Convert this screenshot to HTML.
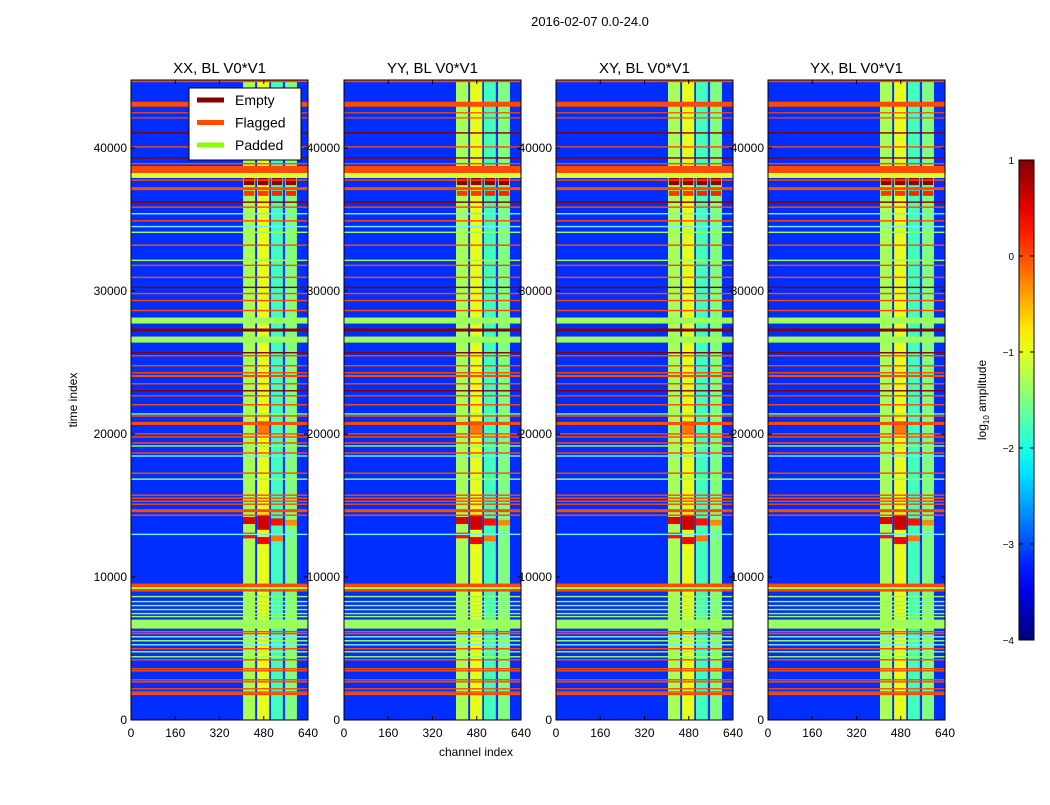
<!DOCTYPE html>
<html><head><meta charset="utf-8"><style>
body{margin:0;background:#fff;font-family:"Liberation Sans",sans-serif}
svg text{font-family:"Liberation Sans",sans-serif}
</style></head><body>
<svg id="fig" width="1050" height="800" xmlns="http://www.w3.org/2000/svg">
<rect width="1050" height="800" fill="#fff"/>
<text x="590" y="26" font-size="13" text-anchor="middle">2016-02-07 0.0-24.0</text>
</svg>
<script>
// ---- data ----
const panelTitles = ["XX, BL V0*V1","YY, BL V0*V1","XY, BL V0*V1","YX, BL V0*V1"];
const xTicks = [0,160,320,480,640];
const yTicks = [0,10000,20000,30000,40000];
const cbTicks = [1,0,-1,-2,-3,-4];
const baseValue = -3.15;
// channel stripes: [start, end, log10 amplitude]
const stripes = [[405,449,-1.3],[456,500,-1.0],[506,549,-1.8],[557,600,-1.5]];
// time bands: [t0, t1, kind]  F=flagged, E=empty, G=padded, W=bright line, Y=yellow
const timeBands = [
[44600,44750,'F'],[42880,43230,'F'],[42420,42500,'F'],[42060,42140,'F'],[41000,41100,'E'],[40020,40120,'F'],
[39250,39350,'E'],[38850,38950,'F'],[38250,38740,'F'],[37900,38250,'Y'],[37700,37800,'F'],[37050,37260,'F'],
[36160,36260,'E'],[35810,35910,'F'],[35350,35450,'W'],[34850,34950,'F'],[34450,34550,'W'],[34050,34150,'G'],
[33150,33250,'F'],[32090,32190,'G'],[31740,31840,'F'],[30900,31000,'F'],[30200,30300,'E'],[29770,29870,'F'],
[29280,29380,'F'],[28580,28680,'F'],[27720,28140,'G'],[27160,27370,'E'],[26390,26810,'G'],[25630,25730,'E'],
[25420,25520,'F'],[24720,24820,'F'],[24230,24330,'F'],[23980,24130,'F'],[23460,23560,'F'],[22970,23070,'E'],
[22620,22720,'F'],[21990,22090,'F'],[21350,21450,'G'],[21210,21310,'F'],[20630,20840,'F'],[19950,20050,'F'],
[19740,19840,'F'],[19320,19420,'F'],[19110,19210,'G'],[18620,18720,'F'],[18410,18510,'W'],[17210,17310,'F'],
[16790,16890,'G'],[15670,15770,'F'],[15460,15560,'F'],[15250,15350,'F'],[15040,15140,'F'],[14530,14740,'F'],
[14270,14370,'F'],[12930,13030,'W'],[9300,9540,'F'],[9150,9300,'G'],[8980,9150,'F'],[8580,8680,'G'],
[8230,8330,'G'],[7950,8050,'G'],[7670,7770,'G'],[7390,7490,'G'],[7180,7280,'G'],[6390,7020,'G'],
[6130,6230,'F'],[5990,6090,'F'],[5770,5870,'W'],[5490,5590,'G'],[5210,5310,'W'],[4930,5030,'F'],
[4720,4820,'G'],[4370,4470,'G'],[4160,4260,'F'],[3530,3630,'F'],[3390,3490,'F'],[2760,2860,'F'],
[2620,2720,'F'],[2130,2230,'F'],[1910,2010,'F'],[1740,1900,'F']
];
// hotspots: [c0, c1, t0, t1, value]
const hotspots = [
[408,446,37400,38250,0.9],[459,497,37400,38250,0.9],[509,546,37400,38250,0.9],[560,597,37400,38250,0.9],
[408,446,36650,37000,0.1],[459,497,36650,37000,0.1],[509,546,36650,37000,0.2],[560,597,36650,37000,0.2],
[456,500,20000,20900,-0.2],
[405,449,13700,14200,0.5],[456,500,13300,14300,0.6],[506,549,13600,14100,0.3],[557,600,13600,14000,-0.3],
[405,449,12700,13100,0.3],[456,500,12300,12800,0.4],[506,549,12500,12900,-0.2]
];
// ---- layout ----
const panelX = [131,344,556,768], PW = 177, PY0 = 80, PY1 = 720, tMax = 44750, cMax = 640;
const kindColor = {F:'#ff4a00',E:'#880000',G:'#9cff5c',W:'#6ff0ff',Y:'#dcff30'};
function jet(v){const t=Math.max(0,Math.min(1,(v+4)/5));const c=x=>Math.round(255*Math.max(0,Math.min(1,1.5-Math.abs(4*t-x))));return `rgb(${c(3)},${c(2)},${c(1)})`;}
const NS="http://www.w3.org/2000/svg", svg=document.getElementById('fig');
function mk(tag,attrs,parent){const e=document.createElementNS(NS,tag);for(const k in attrs)e.setAttribute(k,attrs[k]);(parent||svg).appendChild(e);return e;}
panelX.forEach((px,pi)=>{
  const xs=c=>px+c/cMax*PW, ys=t=>PY1-t/tMax*(PY1-PY0);
  const g=mk('g',{});
  
  
  const base=mk('rect',{x:px,y:PY0,width:PW,height:PY1-PY0,fill:jet(baseValue)},g);
  
  
  stripes.forEach(s=>{const r=mk('rect',{x:xs(s[0]),y:PY0,width:xs(s[1])-xs(s[0]),height:PY1-PY0,fill:jet(s[2])},g);
    
    });
  hotspots.forEach(h=>{const r=mk('rect',{x:xs(h[0]),y:ys(h[3]),width:xs(h[1])-xs(h[0]),height:ys(h[2])-ys(h[3]),fill:jet(h[4])},g);
    
    });
  timeBands.forEach(b=>{const h=Math.max(1.2,ys(b[0])-ys(b[1]));const r=mk('rect',{x:px,y:ys(b[1]),width:PW,height:h,fill:kindColor[b[2]]},g);
    
    });
  const fr=mk('rect',{x:px,y:PY0,width:PW,height:PY1-PY0,fill:'none',stroke:'#000','stroke-width':1},g);
  
  
  const tt=mk('text',{x:px+PW/2,y:73,'font-size':15,'text-anchor':'middle'});tt.textContent=panelTitles[pi];
  
  
  xTicks.forEach(v=>{const x=xs(v);mk('line',{x1:x,x2:x,y1:PY1,y2:PY1-4,stroke:'#000'});mk('line',{x1:x,x2:x,y1:PY0,y2:PY0+4,stroke:'#000'});
    const t=mk('text',{x:x,y:737,'font-size':12,'text-anchor':'middle'});t.textContent=v;
    
    });
  yTicks.forEach(v=>{const y=ys(v);mk('line',{x1:px,x2:px+4,y1:y,y2:y,stroke:'#000'});mk('line',{x1:px+PW,x2:px+PW-4,y1:y,y2:y,stroke:'#000'});
    const t=mk('text',{x:px-4,y:y+4,'font-size':12,'text-anchor':'end'});t.textContent=v;
    
    });
});
// axis labels
const xl=mk('text',{x:476,y:756,'font-size':12,'text-anchor':'middle'});xl.textContent='channel index';


const yl=mk('text',{x:0,y:0,'font-size':12,'text-anchor':'middle',transform:'translate(77,400) rotate(-90)'});yl.textContent='time index';


// legend
const lg=mk('g',{});


mk('rect',{x:189,y:88,width:112,height:72,fill:'#fff',stroke:'#000'},lg);
[['Empty','#880000'],['Flagged','#ff4a00'],['Padded','#88ff00']].forEach((e,i)=>{
  const y=100+i*22.5;
  const ln=mk('line',{x1:197,x2:224,y1:y,y2:y,stroke:e[1],'stroke-width':5},lg);
  
  
  const t=mk('text',{x:235,y:y+5,'font-size':14},lg);t.textContent=e[0];
  
  
});
// colorbar
const CX=1019,CW=15,CY0=160,CY1=640;
const defs=mk('defs',{});const grad=mk('linearGradient',{id:'jetg',x1:0,y1:1,x2:0,y2:0},defs);
for(let i=0;i<=20;i++){mk('stop',{offset:i/20,'stop-color':jet(-4+5*i/20)},grad);}
const cb=mk('rect',{x:CX,y:CY0,width:CW,height:CY1-CY0,fill:'url(#jetg)',stroke:'#000'});


cbTicks.forEach(v=>{const y=CY1-(v+4)/5*(CY1-CY0);mk('line',{x1:CX,x2:CX+4,y1:y,y2:y,stroke:'#000'});mk('line',{x1:CX+CW,x2:CX+CW-4,y1:y,y2:y,stroke:'#000'});
  const t=mk('text',{x:1014,y:y+4,'font-size':10,'text-anchor':'end'});t.textContent=v<0?'\u2212'+(-v):v;
  
  });
const cl=mk('text',{x:0,y:0,'font-size':12,'text-anchor':'middle',transform:'translate(986,400) rotate(-90)'});
cl.innerHTML='log<tspan font-size="8" dy="3">10</tspan><tspan dy="-3"> amplitude</tspan>';


</script>
</body></html>
